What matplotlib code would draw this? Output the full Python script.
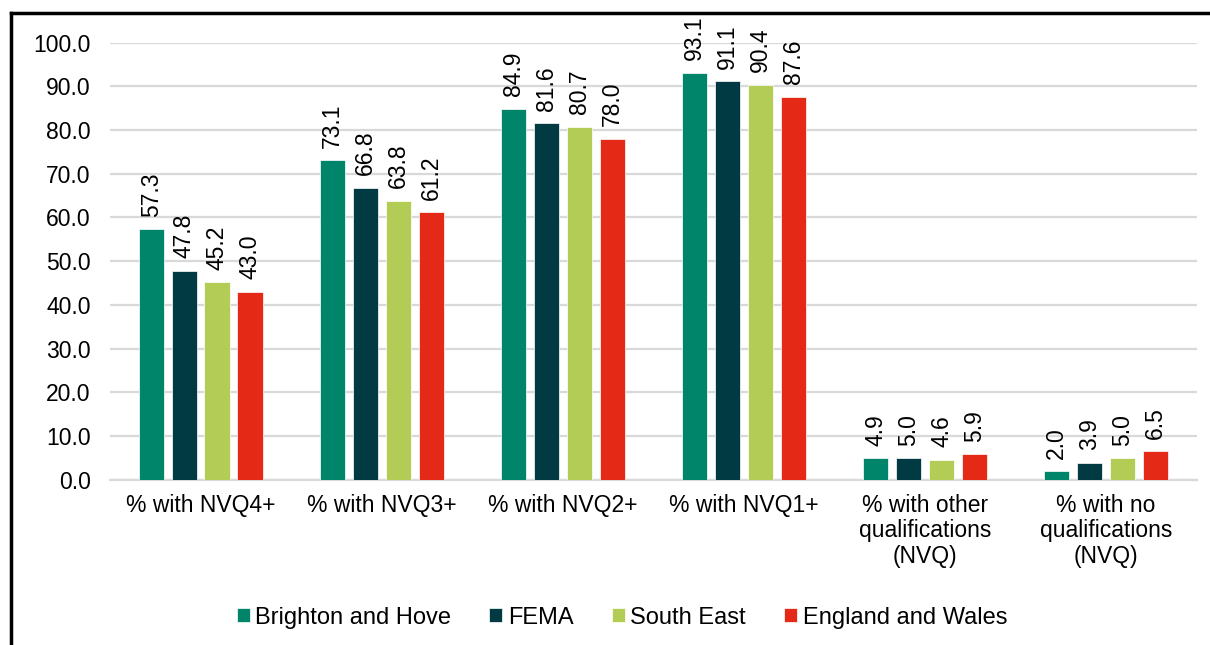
import numpy as np
import matplotlib.pyplot as plt
from matplotlib.lines import Line2D

plt.rcParams['font.family'] = ['Liberation Sans', 'DejaVu Sans']

categories = ['% with NVQ4+', '% with NVQ3+', '% with NVQ2+', '% with NVQ1+',
              '% with other\nqualifications\n(NVQ)', '% with no\nqualifications\n(NVQ)']
series_names = ['Brighton and Hove', 'FEMA', 'South East', 'England and Wales']
brighton = [57.3, 73.1, 84.9, 93.1, 4.9, 2.0]
fema = [47.8, 66.8, 81.6, 91.1, 5.0, 3.9]
south_east = [45.2, 63.8, 80.7, 90.4, 4.6, 5.0]
england_wales = [43.0, 61.2, 78.0, 87.6, 5.9, 6.5]
colors = ['#00856A', '#023A44', '#B2CC55', '#E42A17']

values = [brighton, fema, south_east, england_wales]
fs = 16.5

fig = plt.figure(figsize=(12.1, 6.45), dpi=100)
ax = fig.add_axes([0.091, 0.256, 0.898, 0.678])

x = np.arange(len(categories))
step = 0.182
width = 0.140
for i, (vals, name, col) in enumerate(zip(values, series_names, colors)):
    pos = x + (i - 1.5) * step
    bars = ax.bar(pos, vals, width, color=col, label=name, zorder=3,
                  edgecolor='white', linewidth=0.5)
    for b, v in zip(bars, vals):
        ax.annotate(f'{v:.1f}', (b.get_x() + b.get_width() / 2, v),
                    xytext=(0, 9), textcoords='offset points',
                    rotation=90, ha='center', va='bottom', fontsize=fs, color='#000000')

ax.set_xlim(-0.5, len(categories) - 0.5)
ax.set_ylim(0, 100)
ax.set_yticks(np.arange(0, 101, 10))
ax.set_yticklabels([f'{t:.1f}' for t in np.arange(0, 101, 10)], fontsize=fs)
ax.set_xticks(x)
ax.set_xticklabels(categories, fontsize=fs, linespacing=1.15)
ax.tick_params(axis='y', length=0, pad=14)
ax.tick_params(axis='x', length=0, pad=10)
ax.grid(axis='y', color='#D9D9D9', linewidth=1.6, zorder=0)
for s in ['top', 'right', 'left']:
    ax.spines[s].set_visible(False)
ax.spines['bottom'].set_color('#D9D9D9')
ax.spines['bottom'].set_linewidth(1.6)

ax.legend(loc='center', bbox_to_anchor=(0.471, -0.315), ncol=4, frameon=False,
          fontsize=17, handlelength=0.55, handleheight=0.55, handletextpad=0.25,
          columnspacing=1.6)

# frame lines along the top and left edges
fig.add_artist(Line2D([11 / 1210, 11 / 1210], [0, 1 - 13 / 645], color='black', linewidth=2.5))
fig.add_artist(Line2D([11 / 1210, 1], [1 - 13 / 645, 1 - 13 / 645], color='black', linewidth=2.5))

fig.savefig('out.png', dpi=100, facecolor='white')
